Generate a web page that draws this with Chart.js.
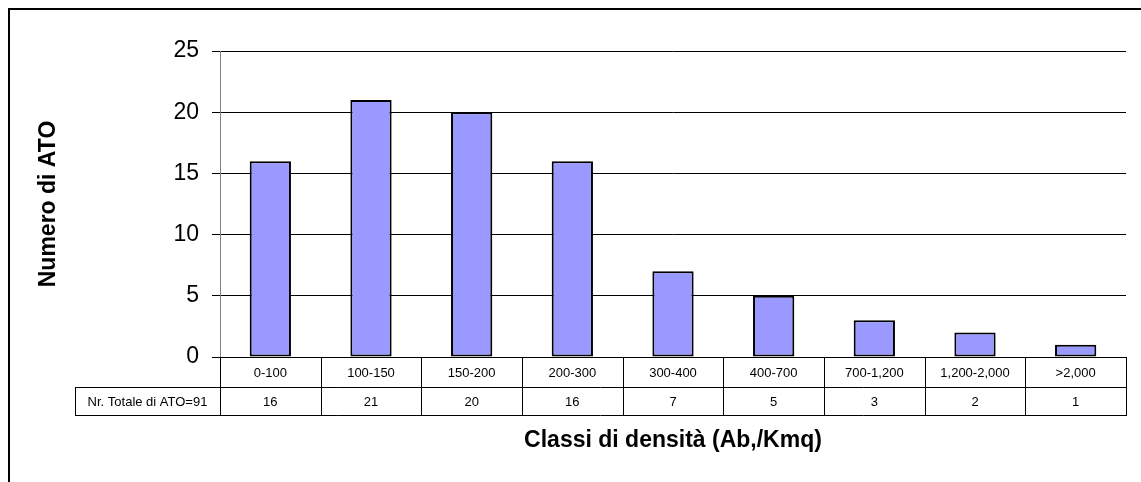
<!DOCTYPE html>
<html>
<head>
<meta charset="utf-8">
<script src="https://cdn.jsdelivr.net/npm/chart.js@4"></script>
<style>
body { margin: 0; background: #fff; }
</style>
</head>
<body>
<canvas id="atoChart" width="1141" height="482"></canvas>
<script>
// density classes and number of ATO per class
var classi = ["0-100", "100-150", "150-200", "200-300", "300-400", "400-700", "700-1,200", "1,200-2,000", ">2,000"];
var numeroAto = [16, 21, 20, 16, 7, 5, 3, 2, 1];
var yTicks = [0, 5, 10, 15, 20, 25];
var rowHeader = "Nr. Totale di ATO=91";
var font = "'Liberation Sans', Arial, sans-serif";

// draws the frame around the whole chart
var frame = {
    id: 'frame',
    beforeDraw: function (chart) {
        var ctx = chart.ctx;
        ctx.save();
        ctx.strokeStyle = '#000';
        ctx.lineWidth = 2;
        ctx.strokeRect(9, 9, 1300, 700);
        ctx.restore();
    }
};

// data table under the plot, like the excel one
var dataTable = {
    id: 'dataTable',
    afterDraw: function (chart) {
        var ctx = chart.ctx;
        var xs = chart.scales.x;
        var area = chart.chartArea;
        var step = area.width / classi.length;
        var top = area.bottom, mid = top + 30, bot = mid + 28;
        var headLeft = 75;
        var i;

        ctx.save();
        ctx.strokeStyle = '#000';
        ctx.lineWidth = 1;
        ctx.beginPath();
        ctx.moveTo(headLeft, Math.round(mid) + .5);
        ctx.lineTo(area.right, Math.round(mid) + .5);
        ctx.moveTo(headLeft, Math.round(bot) + .5);
        ctx.lineTo(area.right, Math.round(bot) + .5);
        ctx.moveTo(headLeft + .5, Math.round(mid));
        ctx.lineTo(headLeft + .5, Math.round(bot) + 1);
        for (i = 0; i <= classi.length; i++) {
            var bx = Math.round(area.left + i * step) + .5;
            ctx.moveTo(bx, top);
            ctx.lineTo(bx, Math.round(bot) + 1);
        }
        ctx.stroke();

        ctx.fillStyle = '#000';
        ctx.font = "13px " + font;
        ctx.textAlign = 'center';
        ctx.textBaseline = 'middle';
        for (i = 0; i < classi.length; i++) {
            var cx = xs.getPixelForValue(i);
            ctx.fillText(classi[i], cx, (top + mid) / 2 + 1);
            ctx.fillText(String(numeroAto[i]), cx, (mid + bot) / 2 + 1);
        }
        ctx.fillText(rowHeader, (headLeft + area.left) / 2, (mid + bot) / 2 + 1);
        ctx.restore();
    }
};

new Chart(document.getElementById("atoChart").getContext("2d"), {
    type: 'bar',
    data: {
        labels: classi,
        datasets: [{
            label: 'Numero di ATO',
            data: numeroAto,
            backgroundColor: '#9999FF',
            borderColor: '#000',
            borderWidth: 2,
            borderSkipped: false,
            barPercentage: 0.41,
            categoryPercentage: 1.0
        }]
    },
    options: {
        responsive: false,
        animation: false,
        layout: {
            padding: { top: 51, left: 0, right: 15, bottom: 0 }
        },
        plugins: {
            legend: { display: false },
            tooltip: { enabled: false }
        },
        scales: {
            x: {
                grid: { display: false },
                ticks: { display: false },
                border: { color: '#000' },
                title: {
                    display: true,
                    text: 'Classi di densità (Ab,/Kmq)',
                    color: '#000',
                    font: { family: font, size: 23, weight: 'bold' },
                    padding: { top: 0, bottom: 28 }
                },
                afterFit: function (s) { s.height = 125; }
            },
            y: {
                min: 0,
                max: 25,
                afterBuildTicks: function (s) {
                    s.ticks = yTicks.map(function (v) { return { value: v }; });
                },
                ticks: {
                    color: '#000',
                    padding: 13,
                    font: { family: font, size: 23 }
                },
                grid: { color: '#000', tickLength: 8 },
                border: { color: '#808080' },
                title: {
                    display: true,
                    text: 'Numero di ATO',
                    color: '#000',
                    font: { family: font, size: 23, weight: 'bold' },
                    padding: { top: 35, bottom: 0 }
                },
                afterFit: function (s) { s.width = 220; }
            }
        }
    },
    plugins: [frame, dataTable]
});
</script>
</body>
</html>
